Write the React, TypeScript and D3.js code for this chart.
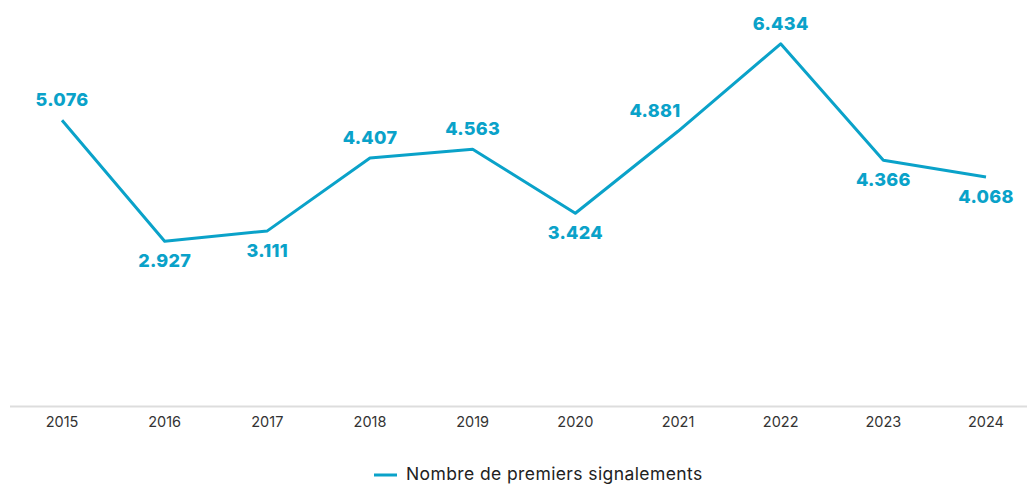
import { useEffect, useRef } from "react";
import * as d3 from "d3";

const years = ["2015", "2016", "2017", "2018", "2019", "2020", "2021", "2022", "2023", "2024"];
const signalements = [5076, 2927, 3111, 4407, 4563, 3424, 4881, 6434, 4366, 4068];
// label placement: above (-1) or below (+1) the point
const labelSide = [-1, 1, 1, -1, -1, 1, -1, -1, 1, 1];
const seriesName = "Nombre de premiers signalements";

const W = 1027;
const H = 484;
const COLOR = "#0aa2c9";

export default function App() {
  const svgRef = useRef<SVGSVGElement>(null);

  useEffect(() => {
    if (!svgRef.current) return;
    const svg = d3.select(svgRef.current);
    svg.selectAll("*").remove();

    const x = d3.scalePoint<string>().domain(years).range([62, 986]);
    const y = d3.scaleLinear().domain([0, 7000]).range([406, 12]);

    // baseline axis
    svg.append("line")
      .attr("x1", 10).attr("x2", W)
      .attr("y1", 406.5).attr("y2", 406.5)
      .attr("stroke", "#dddddd")
      .attr("stroke-width", 2);

    svg.append("g")
      .selectAll("text")
      .data(years)
      .join("text")
      .attr("x", (d) => x(d)!)
      .attr("y", 427)
      .attr("text-anchor", "middle")
      .attr("font-family", "Inter, sans-serif")
      .attr("font-size", 14.5)
      .attr("fill", "#333")
      .text((d) => d);

    const line = d3.line<number>()
      .x((_, i) => x(years[i])!)
      .y((d) => y(d));

    svg.append("path")
      .datum(signalements)
      .attr("fill", "none")
      .attr("stroke", COLOR)
      .attr("stroke-width", 3)
      .attr("stroke-linejoin", "round")
      .attr("d", line);

    const fmt = (v: number) => d3.format(",")(v).replace(",", ".");

    svg.append("g")
      .selectAll("text")
      .data(signalements)
      .join("text")
      .attr("x", (_, i) => x(years[i])! + (years[i] === "2021" ? -23 : 0))
      .attr("y", (d, i) => y(d) + (labelSide[i] < 0 ? -14 : 26))
      .attr("text-anchor", "middle")
      .attr("font-family", "Inter, sans-serif")
      .attr("font-weight", 800)
      .attr("font-size", 18)
      .attr("letter-spacing", 0.3)
      .attr("fill", COLOR)
      .text((d) => fmt(d));

    // legend
    const lg = svg.append("g");
    lg.append("line")
      .attr("x1", 374).attr("x2", 397)
      .attr("y1", 475).attr("y2", 475)
      .attr("stroke", COLOR)
      .attr("stroke-width", 3);
    lg.append("text")
      .attr("x", 406)
      .attr("y", 480)
      .attr("font-family", "Inter, sans-serif")
      .attr("font-size", 17.5)
      .attr("letter-spacing", 0.4)
      .attr("fill", "#222")
      .text(seriesName);
  }, []);

  return (
    <svg
      ref={svgRef}
      width={W}
      height={H}
      style={{ position: "absolute", left: 0, top: 0, display: "block" }}
    />
  );
}
